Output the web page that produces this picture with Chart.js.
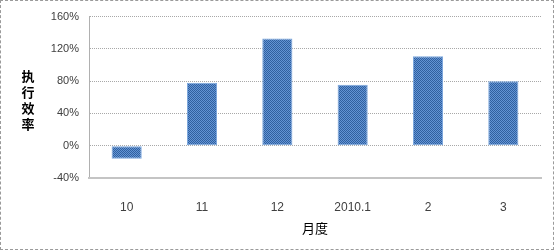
<!DOCTYPE html>
<html>
<head>
<meta charset="utf-8">
<script src="https://cdn.jsdelivr.net/npm/chart.js@4"></script>
<style>
  body { margin: 0; background: #fff; }
  #wrap { position: relative; width: 556px; height: 251px; }
  #frame { position: absolute; left: 0; top: 0; width: 554px; height: 250px; box-sizing: border-box;
           border: 1px dashed #9a9a9a; pointer-events: none; }
</style>
</head>
<body>
<div id="wrap">
  <canvas id="statsChart" width="556" height="251"></canvas>
  <div id="frame"></div>
</div>
<script>
// chart data
const months = ['10', '11', '12', '2010.1', '2', '3'];
const rates = [-16, 78, 133, 75.5, 111, 80];
const yTicks = [-40, 0, 40, 80, 120, 160];

// dotted blue fill like the excel pattern
function makePattern() {
    const c = document.createElement('canvas');
    c.width = 2; c.height = 2;
    const g = c.getContext('2d');
    g.fillStyle = '#6394d4';
    g.fillRect(0, 0, 2, 2);
    g.fillStyle = '#30609f';
    g.fillRect(0, 0, 1, 1);
    g.fillRect(1, 1, 1, 1);
    return g.createPattern(c, 'repeat');
}

const yTitle = {
    id: 'yTitle',
    afterDraw(chart) {
        const ctx = chart.ctx;
        const chars = ['执', '行', '效', '率'];
        ctx.save();
        ctx.font = 'bold 13px "Noto Sans CJK SC"';
        ctx.fillStyle = '#000';
        ctx.textAlign = 'center';
        ctx.textBaseline = 'middle';
        chars.forEach((ch, i) => ctx.fillText(ch, 28, 76 + i * 16));
        ctx.restore();
    }
};

document.addEventListener("DOMContentLoaded", function () {
    const ctx = document.getElementById('statsChart');

    new Chart(ctx, {
        type: 'bar',
        data: {
            labels: months,
            datasets: [{
                data: rates,
                backgroundColor: makePattern(),
                borderColor: '#7aa6dd',
                borderWidth: 1,
                borderSkipped: false,
                barPercentage: 0.4,
                categoryPercentage: 1
            }]
        },
        options: {
            responsive: false,
            animation: false,
            layout: { padding: { top: 15, right: 15, left: 0, bottom: 0 } },
            scales: {
                y: {
                    min: -40,
                    max: 160,
                    afterBuildTicks: (scale) => { scale.ticks = yTicks.map(v => ({ value: v })); },
                    afterFit: (scale) => { scale.width = 89; },
                    ticks: {
                        padding: 10,
                        color: '#404040',
                        font: { family: 'Liberation Sans', size: 11 },
                        callback: (v) => v + '%'
                    },
                    grid: { color: '#a8a8a8', drawTicks: false },
                    border: { display: true, color: '#b0b0b0', dash: [1, 1] }
                },
                x: {
                    afterFit: (scale) => { scale.height = 73; },
                    ticks: {
                        padding: 14,
                        color: '#404040',
                        font: { family: 'Liberation Sans', size: 12 }
                    },
                    grid: { display: false },
                    border: { display: true, color: '#c4c4c4', width: 2 },
                    title: {
                        display: true,
                        text: '月度',
                        color: '#000',
                        font: { family: 'Noto Sans CJK SC', size: 13 },
                        padding: { top: 0, bottom: 15 }
                    }
                }
            },
            plugins: {
                legend: { display: false },
                tooltip: { enabled: false }
            }
        },
        plugins: [yTitle]
    });
});
</script>
</body>
</html>
